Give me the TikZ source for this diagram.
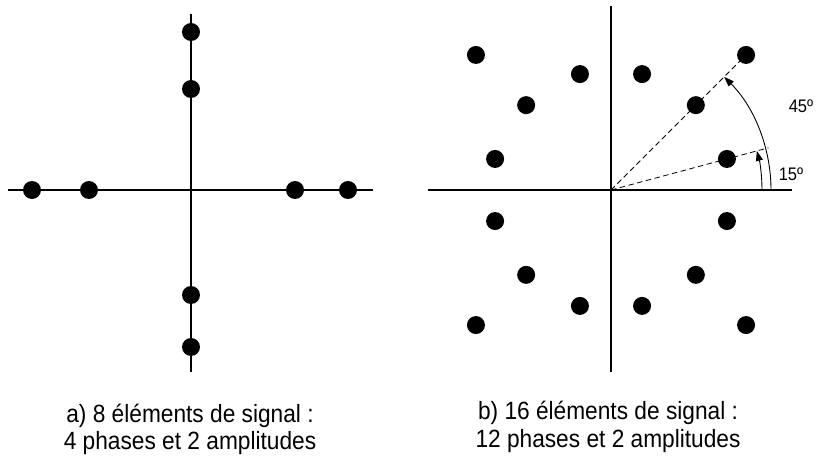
\documentclass[tikz,border=0pt]{standalone}
\usepackage{graphicx}
\usepackage{fontspec}
\setmainfont{Liberation Sans}
\usetikzlibrary{arrows.meta,calc}
\newcommand{\tallt}[1]{\scalebox{1}[1.1]{#1}}
\begin{document}
\begin{tikzpicture}[x=1pt,y=-1pt,
  axis/.style={line width=1.1pt},
  pt/.style={circle,fill=black,inner sep=0pt,minimum size=18pt},
  ray/.style={line width=0.8pt,dash pattern=on 5.5pt off 3.5pt},
  angarc/.style={line width=0.9pt,-{Triangle[length=10pt,width=7pt]}},
  captext/.style={font=\fontsize{22.7}{27}\selectfont,anchor=base,inner sep=0pt},
  lbl/.style={font=\fontsize{16.5}{18}\selectfont,anchor=base,inner sep=0pt}]
\useasboundingbox (0,0) rectangle (825,462);
% ---- left diagram
\coordinate (L) at (191,190);
\coordinate (Lw) at (8,190);
\coordinate (Le) at (373,190);
\coordinate (Ln) at (191,14);
\coordinate (Ls) at (191,372);
\draw[axis] (Lw) -- (Le);
\draw[axis] (Ln) -- (Ls);
\node[pt] (a1) at (191,32) {};
\node[pt] (a2) at (191,89) {};
\node[pt] (a3) at (191,295) {};
\node[pt] (a4) at (191,347) {};
\node[pt] (a5) at (32,190) {};
\node[pt] (a6) at (89,190) {};
\node[pt] (a7) at (295,190) {};
\node[pt] (a8) at (348,190) {};
\node[captext] (capa1) at (190,422) {\tallt{a) 8 éléments de signal :}};
\node[captext] (capa2) at (190,449) {\tallt{4 phases et 2 amplitudes}};
% ---- right diagram
\coordinate (O) at (611,190);
\coordinate (Rw) at (428,190);
\coordinate (Re) at (792,190);
\coordinate (Rn) at (611,6);
\coordinate (Rs) at (611,372);
\draw[axis] (Rw) -- (Re);
\draw[axis] (Rn) -- (Rs);
\foreach \a [count=\i] in {15,45,75,105,135,165,195,225,255,285,315,345}
  \node[pt] (b\i) at ($(O)+({120*cos(\a)},{-120*sin(\a)})$) {};
\foreach \a [count=\i] in {45,135,225,315}
  \node[pt] (c\i) at ($(O)+({191*cos(\a)},{-191*sin(\a)})$) {};
\coordinate (r15) at ($(O)+({163*cos(15)},{-163*sin(15)})$);
\draw[ray] (O) -- (c1.center);
\draw[ray] (O) -- (r15);
\coordinate (s45) at (771,190);
\coordinate (s15) at (762,190);
\draw[angarc] (s45) arc[start angle=0,end angle=45,radius=160pt];
\draw[angarc] (s15) arc[start angle=0,end angle=15,radius=151pt];
\node[lbl] (l45) at (801,113) {\tallt{45º}};
\node[lbl] (l15) at (791,181) {\tallt{15º}};
\node[captext] (capb1) at (608,420) {\tallt{b) 16 éléments de signal :}};
\node[captext] (capb2) at (608,447) {\tallt{12 phases et 2 amplitudes}};
\end{tikzpicture}
\end{document}
